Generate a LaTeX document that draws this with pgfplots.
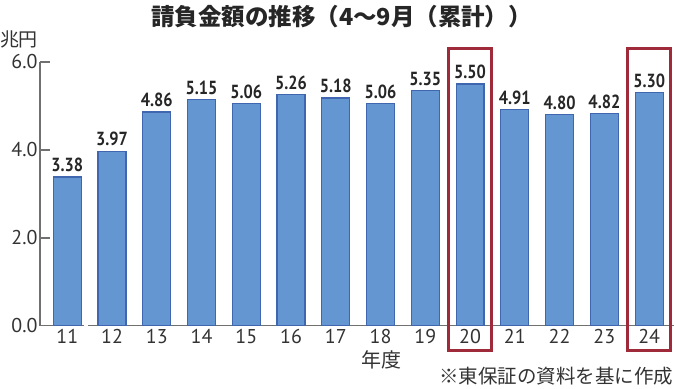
\documentclass[border=0pt]{standalone}
\usepackage{pgfplots}
\pgfplotsset{compat=1.18}
\usepackage{fontspec}
\setmainfont{PT Sans}
\newfontfamily\jp{Noto Sans CJK JP}
\newfontfamily\valfont[FakeStretch=0.86]{PT Sans}
\definecolor{barfill}{HTML}{6496D2}
\definecolor{barline}{HTML}{3F66AE}
\definecolor{boxred}{HTML}{9E2A3A}
\definecolor{axgray}{HTML}{707070}
\definecolor{txt}{HTML}{333333}
\begin{document}
\begin{tikzpicture}
\begin{axis}[
  name=ax,
  at={(0pt,0pt)}, anchor=south west,
  scale only axis, width=635pt, height=264pt,
  xmin=-0.61, xmax=13.56, ymin=0, ymax=6,
  axis x line*=bottom, axis y line*=left,
  axis line style={draw=axgray, line width=1.6pt},
  xtick={0,...,13},
  xticklabels={11,12,13,14,15,16,17,18,19,20,21,22,23,24},
  xtick style={draw=none},
  ytick={0,2,4,6},
  yticklabels={0.0,2.0,4.0,6.0},
  ytick style={draw=axgray, line width=1.6pt},
  tick align=inside,
  major tick length=10pt,
  every tick label/.append style={font=\fontsize{20}{20}\selectfont, text=txt},
  xticklabel style={yshift=7pt, inner sep=0pt},
  yticklabel style={xshift=1pt},
  /pgf/number format/assume math mode=true,
  clip=false,
  ybar, bar width=28pt,
  nodes near coords={\pgfmathprintnumber[fixed,fixed zerofill,precision=2]{\pgfplotspointmeta}},
  every node near coord/.append style={font=\valfont\bfseries\fontsize{19}{19}\selectfont, text=black!85, anchor=south, yshift=1pt},
]
\addplot[fill=barfill, draw=barline, line width=1.2pt] coordinates {
(0,3.38) (1,3.97) (2,4.86) (3,5.15) (4,5.06) (5,5.26) (6,5.18)
(7,5.06) (8,5.35) (9,5.50) (10,4.91) (11,4.80) (12,4.82) (13,5.30)};
\fill[white] (axis cs:0.37,-0.05) rectangle (axis cs:0.46,0.05);
\draw[boxred, line width=3pt] (axis cs:8.52,-0.57) rectangle (axis cs:9.48,6.31);
\draw[boxred, line width=3pt] (axis cs:12.51,-0.57) rectangle (axis cs:13.48,6.31);
\end{axis}
\useasboundingbox (-40pt,-63pt) rectangle (635pt,326pt);
\node[font=\jp\bfseries\fontsize{23.5}{23.5}\selectfont, text=black!85] at (302pt,309pt) {請負金額の推移（4～9月（累計））};
\node[font=\jp\fontsize{19}{19}\selectfont, text=txt] at (-21pt,286pt) {兆円};
\node[font=\jp\fontsize{20}{20}\selectfont, text=txt, inner sep=0pt] at (342pt,-34pt) {年度};
\node[font=\jp\fontsize{19.5}{19.5}\selectfont, text=txt, anchor=east, inner sep=0pt] at (634pt,-51pt) {※東保証の資料を基に作成};
\end{tikzpicture}
\end{document}
